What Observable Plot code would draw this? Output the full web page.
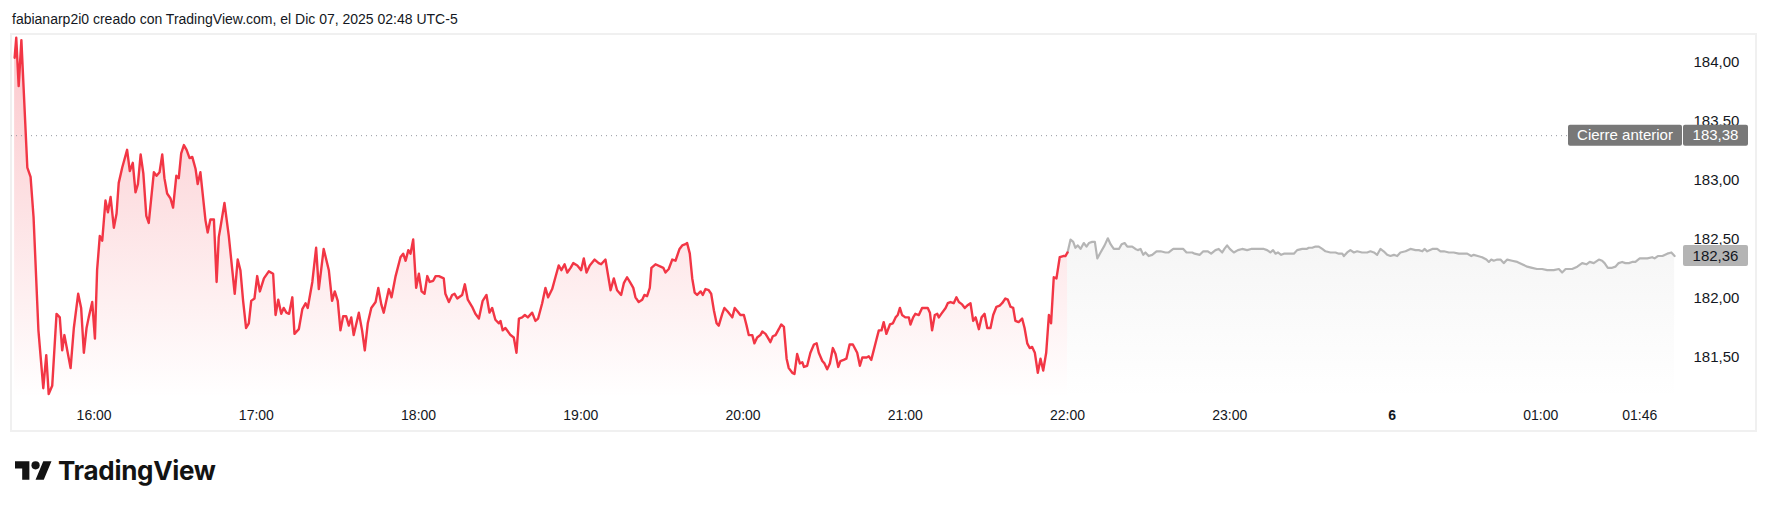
<!DOCTYPE html>
<html><head><meta charset="utf-8">
<script src="https://cdn.jsdelivr.net/npm/d3@7"></script>
<script src="https://cdn.jsdelivr.net/npm/@observablehq/plot@0.6"></script>
<style>
html,body{margin:0;padding:0;background:#fff;width:1769px;height:509px;overflow:hidden;font-family:"Liberation Sans",Arial,sans-serif;}
#hdr{position:absolute;left:12px;top:11px;font-size:14px;color:#131722;white-space:nowrap;line-height:16px;}
#box{position:absolute;left:10px;top:33px;width:1747px;height:399px;border:2px solid #f0f0f0;box-sizing:border-box;}
#chart{position:absolute;left:11px;top:34px;}
#logo{position:absolute;left:15px;top:456px;display:flex;align-items:center;gap:6px;}
#logo svg{display:block;}
#logo span{font-family:"Inter","Liberation Sans",sans-serif;font-weight:700;font-size:26px;color:#131313;letter-spacing:-0.3px;line-height:30px;}
</style></head><body>
<div id="hdr">fabianarp2i0 creado con TradingView.com, el Dic 07, 2025 02:48 UTC-5</div>
<div id="box"></div>
<div id="chart"></div>
<div id="logo"><svg width="37" height="29" viewBox="0 0 36 28"><path d="M14 22H7V11H0V4h14v18zM28 22h-8l7.5-18h8L28 22z" fill="#131313"/><circle cx="20" cy="8" r="4" fill="#131313"/></svg><span>TradingView</span></div>
<script>
// Regular session (red), x = minutes since 15:30 on the bar axis
const sessionTime = [
0.6,1.2,2.1,3.1,5.3,6.5,7.6,9.4,11.2,12.3,
13.2,14.5,16.1,17.3,18.2,19.0,21.3,22.5,24.1,25.2,
26.2,27.2,28.0,29.3,30.3,31.1,32.1,33.0,34.2,35.1,
36.1,37.3,38.3,39.1,40.4,42.2,43.2,44.3,45.3,46.2,
47.2,48.2,49.3,50.2,52.1,53.1,54.2,55.2,56.0,57.0,
58.2,59.2,60.4,61.3,62.2,63.2,64.2,65.3,66.3,67.5,
68.3,69.3,71.2,72.0,73.0,74.3,75.3,76.1,76.7,78.2,
79.8,82.0,83.1,84.1,85.1,86.2,87.2,88.1,89.3,90.3,
91.3,92.8,94.6,96.2,97.1,98.1,99.2,100.1,101.1,102.1,
103.3,104.1,105.7,107.0,108.2,109.0,110.7,112.1,113.1,114.9,
116.8,118.0,119.0,120.1,121.1,122.1,123.2,124.2,125.1,126.0,
127.9,129.1,130.1,131.2,132.5,134.1,135.1,136.2,137.1,139.0,
140.0,141.5,143.3,144.3,145.2,146.2,147.0,148.0,149.1,150.1,
151.1,152.2,153.2,154.1,155.4,156.3,157.5,159.3,159.9,161.2,
162.4,163.3,164.3,166.1,167.1,168.2,169.8,171.0,172.3,173.7,
175.1,176.2,177.2,178.4,179.7,180.3,181.1,182.1,184.0,185.2,
186.2,187.1,188.3,189.3,190.4,192.0,193.2,194.2,195.7,196.9,
197.9,199.4,200.6,201.8,202.8,204.0,205.0,206.2,207.2,208.7,
210.1,211.1,212.1,213.3,215.1,216.6,217.5,219.1,221.0,222.2,
223.4,224.9,225.9,227.1,228.4,229.4,230.2,231.4,232.7,233.5,
234.5,235.5,236.1,237.6,239.5,240.5,241.3,242.5,243.8,245.0,
246.5,247.5,248.7,249.3,250.3,251.2,252.1,253.0,254.3,255.1,
256.1,257.3,258.2,259.2,260.2,261.0,262.3,263.1,264.3,266.0,
266.9,268.0,269.0,270.3,271.3,272.1,273.4,274.2,275.2,276.4,
277.1,278.3,279.1,280.1,281.0,282.0,283.2,284.1,285.1,286.1,
286.9,288.2,289.0,290.0,291.0,291.9,292.5,293.7,294.9,296.2,
297.2,298.0,299.3,300.1,301.1,302.1,303.2,304.2,305.2,306.0,
307.2,308.2,309.4,310.6,312.2,313.2,314.1,315.7,316.5,317.4,
318.3,319.3,320.2,321.2,322.0,323.0,324.3,325.4,326.4,327.2,
328.0,328.8,330.0,331.3,331.9,332.9,333.7,335.0,336.2,337.5,
338.3,339.1,339.9,340.9,341.8,342.4,343.3,
344.9,345.7,346.7,347.9,348.9,349.8,351.0,352.0,352.9,354.1,
355.1,356.0,357.2,358.2,359.3,360.3,361.5,362.5,363.7,364.9,
365.8,367.0,367.9,368.9,369.9,370.7,371.9,373.2,374.1,375.1,
376.0,376.9,377.9,379.0,380.0,381.0,382.1,383.1,383.9,384.9,
385.9,387.1,388.4,389.2,390.0];
const sessionPrice = [
184.04,184.21,183.80,184.19,183.11,183.03,182.69,181.73,181.24,181.52,
181.19,181.26,181.87,181.84,181.56,181.69,181.41,181.75,182.04,181.92,
181.54,181.75,181.84,181.97,181.66,182.24,182.53,182.49,182.83,182.73,
182.86,182.60,182.72,182.98,183.11,183.26,183.08,183.15,182.90,182.97,
183.22,183.06,182.70,182.64,183.07,183.04,183.07,183.22,183.02,182.89,
182.85,182.77,183.04,183.02,183.23,183.30,183.26,183.19,183.20,183.10,
182.97,183.07,182.66,182.56,182.67,182.67,182.14,182.52,182.60,182.81,
182.53,182.04,182.33,182.24,181.98,181.75,181.79,181.98,182.00,182.19,
182.06,182.17,182.23,182.21,181.86,181.99,181.87,181.92,181.88,181.87,
182.01,181.70,181.74,181.91,181.96,181.92,182.14,182.43,182.08,182.42,
182.24,181.98,182.06,181.98,181.73,181.85,181.85,181.77,181.84,181.69,
181.88,181.73,181.56,181.79,181.92,181.97,182.09,181.95,181.88,182.08,
182.01,182.19,182.35,182.38,182.32,182.41,182.38,182.50,182.09,182.21,
182.06,182.04,182.19,182.14,182.15,182.19,182.19,182.17,182.04,181.97,
182.03,182.04,182.00,182.03,182.12,181.99,181.93,181.87,181.83,181.98,
182.03,181.88,181.92,181.82,181.79,181.81,181.73,181.75,181.69,181.67,
181.54,181.83,181.84,181.86,181.84,181.88,181.81,181.83,181.96,182.09,
182.01,182.08,182.18,182.28,182.24,182.29,182.22,182.26,182.30,182.28,
182.24,182.34,182.22,182.28,182.33,182.30,182.29,182.33,182.07,182.17,
182.07,182.03,182.13,182.18,182.13,182.09,182.01,181.97,181.99,182.03,
182.02,182.09,182.26,182.29,182.27,182.26,182.22,182.25,182.33,182.32,
182.42,182.45,182.46,182.47,182.38,182.17,182.05,182.03,182.06,182.03,
182.08,182.07,182.04,181.90,181.79,181.77,181.87,181.92,181.89,181.84,
181.92,181.89,181.86,181.86,181.77,181.69,181.69,181.62,181.67,181.69,
181.72,181.70,181.67,181.63,181.68,181.69,181.74,181.78,181.76,181.49,
181.41,181.37,181.36,181.53,181.45,181.46,181.42,181.43,181.54,181.61,
181.62,181.54,181.47,181.45,181.40,181.45,181.58,181.53,181.42,181.47,
181.48,181.49,181.61,181.61,181.54,181.43,181.50,181.50,181.51,181.48,
181.56,181.65,181.73,181.73,181.80,181.70,181.78,181.79,181.84,181.86,
181.92,181.86,181.84,181.84,181.78,181.84,181.87,181.86,181.92,181.92,
181.92,181.88,181.73,181.86,181.87,181.84,181.87,
181.92,181.96,181.97,181.96,182.01,181.97,181.95,181.92,181.94,181.96,
181.81,181.84,181.74,181.84,181.87,181.75,181.75,181.86,181.93,181.94,
181.96,182.00,181.99,181.93,181.92,181.81,181.80,181.83,181.75,181.62,
181.58,181.59,181.54,181.37,181.49,181.39,181.54,181.86,181.79,182.18,
182.17,182.35,182.36,182.36,182.39];

// Extended hours (grey)
const extTime = [
390.0,391.1,392.1,392.9,393.8,394.8,396.0,397.0,397.9,399.1,
400.1,401.0,402.2,403.7,404.9,405.9,407.1,409.0,410.0,411.1,
412.1,413.9,415.1,416.0,417.0,418.0,418.8,420.0,421.3,422.9,
424.4,426.2,427.4,429.1,430.5,432.8,434.0,436.1,437.0,438.9,
440.2,441.9,443.1,444.7,445.9,447.2,448.0,449.0,450.0,451.5,
453.0,454.6,456.4,457.9,459.5,461.1,462.6,463.8,465.0,466.0,
466.9,467.8,469.0,470.0,471.5,473.7,474.9,476.8,478.4,479.2,
480.5,481.7,482.9,484.2,485.4,487.2,489.1,490.3,491.6,492.2,
493.4,494.6,495.9,497.1,498.9,500.8,502.0,503.3,504.5,505.7,
506.9,508.2,509.4,510.7,511.9,513.1,515.0,516.8,518.7,519.9,
521.2,522.0,523.0,524.9,526.7,527.9,529.2,531.0,532.8,534.7,
536.5,537.8,539.3,540.2,541.7,543.3,544.9,545.8,546.7,547.6,
548.9,550.1,551.3,552.6,554.4,556.3,558.1,560.0,561.8,563.6,
565.5,567.4,569.8,571.7,572.9,574.2,576.6,578.5,580.3,581.9,
583.1,584.6,586.5,587.7,588.6,589.8,591.4,592.6,593.8,595.1,
596.3,597.6,598.8,600.0,601.6,603.1,604.4,606.2,607.1,608.3,
610.0,611.8,613.3,614.5];
const extPrice = [
182.39,182.50,182.48,182.43,182.45,182.42,182.47,182.44,182.47,182.48,
182.48,182.34,182.39,182.45,182.51,182.46,182.42,182.42,182.46,182.47,
182.44,182.44,182.42,182.41,182.42,182.37,182.39,182.36,182.37,182.40,
182.40,182.39,182.39,182.42,182.42,182.42,182.39,182.39,182.38,182.37,
182.40,182.40,182.38,182.41,182.42,182.39,182.42,182.45,182.42,182.39,
182.41,182.42,182.41,182.42,182.42,182.42,182.42,182.41,182.39,182.41,
182.38,182.39,182.37,182.38,182.38,182.38,182.41,182.42,182.42,182.43,
182.43,182.44,182.44,182.42,182.40,182.39,182.39,182.38,182.38,182.36,
182.39,182.41,182.39,182.40,182.39,182.39,182.40,182.39,182.37,182.42,
182.40,182.37,182.36,182.37,182.36,182.39,182.40,182.42,182.41,182.41,
182.40,182.42,182.40,182.42,182.42,182.40,182.40,182.39,182.39,182.38,
182.38,182.38,182.36,182.37,182.36,182.35,182.33,182.31,182.33,182.32,
182.33,182.33,182.30,182.33,182.32,182.31,182.29,182.27,182.26,182.25,
182.25,182.24,182.24,182.25,182.22,182.25,182.25,182.27,182.30,182.29,
182.31,182.30,182.33,182.32,182.30,182.26,182.26,182.27,182.30,182.31,
182.30,182.30,182.31,182.31,182.34,182.34,182.34,182.35,182.34,182.36,
182.36,182.38,182.39,182.36];

const tickTime = [30, 90, 150, 210, 270, 330, 390, 450, 510, 565, 601.6];
const tickLabels = ["16:00","17:00","18:00","19:00","20:00","21:00","22:00","23:00","6","01:00","01:46"];
const tickBold = [false,false,false,false,false,false,false,false,true,false,false];
const priceTicks = [181.5, 182, 182.5, 183, 183.5, 184];
const previousClose = 183.38;
const lastPrice = 182.36;
const prevCloseLabel = "Cierre anterior";

const fmt = d => d.toFixed(2).replace(".", ",");
const sessionRows = sessionTime.map((t, i) => ({t, p: sessionPrice[i]}));
const extRows = extTime.map((t, i) => ({t, p: extPrice[i]}));
const tickRows = tickTime.map((t, i) => ({t, label: tickLabels[i], bold: tickBold[i]}));
const paneBase = 181.15;

const W = 1746, H = 398;
const chart = Plot.plot({
  width: W, height: H,
  marginTop: 0, marginLeft: 0, marginRight: 189, marginBottom: 34,
  style: {fontFamily: "'Liberation Sans', Arial, sans-serif", fontSize: "14px", color: "#131722", background: "transparent", overflow: "visible"},
  x: {type: "linear", domain: [0, 620], range: [1.5, 1.5 + 620 * 2.704], axis: null},
  y: {type: "linear", domain: [181, 184.5], range: [382, -31], axis: null},
  marks: [
    Plot.areaY(sessionRows, {x: "t", y1: () => paneBase, y2: "p", fill: "url(#redFill)", curve: "linear"}),
    Plot.areaY(extRows, {x: "t", y1: () => paneBase, y2: "p", fill: "url(#greyFill)", curve: "linear"}),
    Plot.ruleY([previousClose], {stroke: "#9598a1", strokeWidth: 1, strokeDasharray: "1,4"}),
    Plot.line(extRows, {x: "t", y: "p", stroke: "#b5b5b5", strokeWidth: 2.2, curve: "linear"}),
    Plot.line(sessionRows, {x: "t", y: "p", stroke: "#f23645", strokeWidth: 2.4, curve: "linear"}),
    Plot.axisY(priceTicks, {anchor: "right", label: null, tickSize: 0, tickPadding: 125, textAnchor: "start", tickFormat: fmt, fill: "#131722", fontSize: 15}),
    Plot.text(tickRows.filter(d => !d.bold), {x: "t", text: "label", frameAnchor: "bottom", dy: 21, fill: "#131722"}),
    Plot.text(tickRows.filter(d => d.bold), {x: "t", text: "label", frameAnchor: "bottom", dy: 21, fill: "#131722", fontWeight: "bold"})
  ]
});
document.getElementById("chart").appendChild(chart);

const svg = d3.select(chart);
const defs = svg.insert("defs", ":first-child");
const rg = defs.append("linearGradient").attr("id", "redFill").attr("gradientUnits", "userSpaceOnUse")
  .attr("x1", 0).attr("x2", 0).attr("y1", 0).attr("y2", H - 34);
rg.append("stop").attr("offset", 0).attr("stop-color", "#f23645").attr("stop-opacity", 0.28);
rg.append("stop").attr("offset", 1).attr("stop-color", "#f23645").attr("stop-opacity", 0.0);
const gg = defs.append("linearGradient").attr("id", "greyFill").attr("gradientUnits", "userSpaceOnUse")
  .attr("x1", 0).attr("x2", 0).attr("y1", 0).attr("y2", H - 34);
gg.append("stop").attr("offset", 0).attr("stop-color", "#787878").attr("stop-opacity", 0.16);
gg.append("stop").attr("offset", 1).attr("stop-color", "#787878").attr("stop-opacity", 0.0);

// price labels (y from the plot's own scale)
const ys = chart.scale("y");
const yPrev = ys.apply(previousClose), yLast = ys.apply(lastPrice);
const g = svg.append("g").attr("font-family", "'Liberation Sans', Arial, sans-serif").attr("font-size", 15);
g.append("rect").attr("x", 1557).attr("y", yPrev - 10.5).attr("width", 114).attr("height", 21).attr("rx", 2).attr("fill", "#787878");
g.append("text").attr("x", 1557 + 57).attr("y", yPrev).attr("dy", "0.35em").attr("text-anchor", "middle").attr("fill", "#fff").text(prevCloseLabel);
g.append("rect").attr("x", 1672).attr("y", yPrev - 10.5).attr("width", 65).attr("height", 21).attr("rx", 2).attr("fill", "#787878");
g.append("text").attr("x", 1704.5).attr("y", yPrev).attr("dy", "0.35em").attr("text-anchor", "middle").attr("fill", "#fff").text(fmt(previousClose));
g.append("rect").attr("x", 1672).attr("y", yLast - 10.5).attr("width", 65).attr("height", 21).attr("rx", 2).attr("fill", "#b4b4b4");
g.append("text").attr("x", 1704.5).attr("y", yLast).attr("dy", "0.35em").attr("text-anchor", "middle").attr("fill", "#131722").text(fmt(lastPrice));
</script>
</body></html>
